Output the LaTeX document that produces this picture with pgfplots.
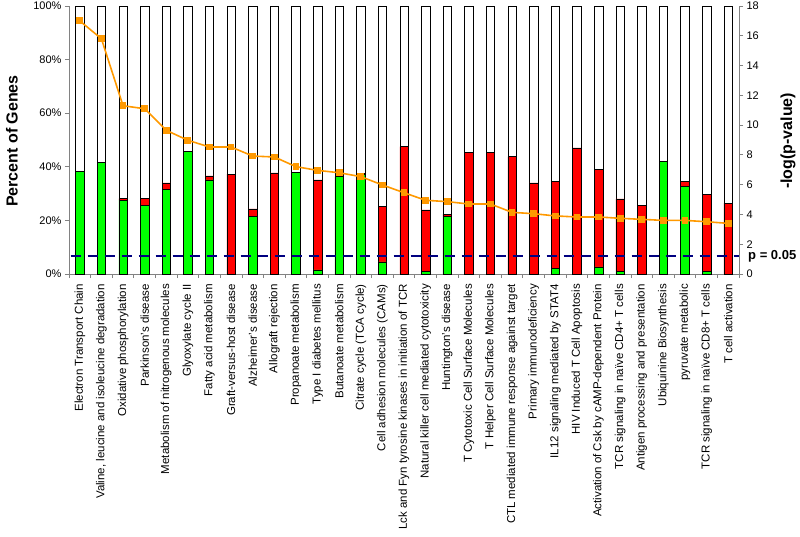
\documentclass[border=0pt]{standalone}
\usepackage{fontspec}
\setmainfont{Liberation Sans}
\usepackage{pgfplots}
\pgfplotsset{compat=1.18}
\usepackage{pgfplotstable}
\definecolor{barGreen}{RGB}{0,255,0}
\definecolor{barRed}{RGB}{255,0,0}
\definecolor{lineOrange}{RGB}{255,153,0}
\definecolor{navyDash}{RGB}{0,0,128}
\definecolor{axGray}{RGB}{130,130,130}

\pgfplotstableread{
x g r w p
0 38.4 0 61.6 17.0
1 41.7 0 58.3 15.8
2 27.6 0.5 71.9 11.3
3 25.5 2.6 71.9 11.1
4 31.7 2.3 66.0 9.65
5 45.8 0 54.2 8.98
6 35.1 1.5 63.4 8.53
7 0 37.3 62.7 8.53
8 21.4 2.9 75.7 7.92
9 0 37.7 62.3 7.86
10 37.9 0 62.1 7.21
11 1.5 33.6 64.9 6.96
12 36.3 0 63.7 6.80
13 37.3 0.3 62.4 6.54
14 4.5 20.6 74.9 5.98
15 0 47.5 52.5 5.46
16 0.9 23.0 76.1 4.95
17 21.4 0.9 77.7 4.86
18 0 45.4 54.6 4.70
19 0 45.4 54.6 4.70
20 0 43.8 56.2 4.14
21 0 34.0 66.0 4.05
22 2.1 32.6 65.3 3.90
23 0 47.1 52.9 3.83
24 2.7 36.4 60.9 3.83
25 0.9 27.1 72.0 3.74
26 0 25.5 74.5 3.67
27 42.0 0 58.0 3.60
28 32.6 2.1 65.3 3.60
29 0.9 28.7 70.4 3.51
30 0 26.4 73.6 3.40
}\data

\begin{document}
\begin{tikzpicture}
\path[use as bounding box] (-69pt,-263pt) rectangle (731pt,274pt);
\begin{axis}[
  at={(0pt,0pt)}, anchor=south west,
  scale only axis, width=670pt, height=268pt,
  ybar stacked, bar width=8.5pt,
  xmin=-0.5, xmax=30.5, ymin=0, ymax=100,
  axis x line*=bottom, axis y line*=left,
  axis line style={axGray, line width=0.8pt},
  tick align=outside,
  major tick length=4pt, minor tick length=4pt,
  every tick/.style={axGray, line width=0.8pt},
  xtick=data,
  major x tick style={draw=none},
  minor xtick={-0.5,0.5,...,30.5},
  xticklabels={
    Electron Transport Chain,
    {Valine, leucine and isoleucine degradation},
    Oxidative phosphorylation,
    Parkinson's disease,
    Metabolism of nitrogenous molecules,
    Glyoxylate cycle II,
    Fatty acid metabolism,
    Graft-versus-host disease,
    Alzheimer's disease,
    Allograft rejection,
    Propanoate metabolism,
    Type I diabetes mellitus,
    Butanoate metabolism,
    Citrate cycle (TCA cycle),
    Cell adhesion molecules (CAMs),
    Lck and Fyn tyrosine kinases in initiation of TCR,
    Natural killer cell mediated cytotoxicity,
    Huntington's disease,
    T Cytotoxic Cell Surface Molecules,
    T Helper Cell Surface Molecules,
    CTL mediated immune response against target,
    Primary immunodeficiency,
    IL12 signaling mediated by STAT4,
    HIV Induced T Cell Apoptosis,
    Activation of Csk by cAMP-dependent Protein,
    TCR signaling in naïve CD4+ T cells,
    Antigen processing and presentation,
    Ubiquinine Biosynthesis,
    pyruvate metabolic,
    TCR signaling in naïve CD8+ T cells,
    T cell activation},
  xticklabel style={rotate=90, anchor=east, font=\fontsize{11.5}{13}\selectfont, inner sep=0pt, xshift=-6pt},
  ytick={0,20,40,60,80,100},
  yticklabels={0\%,20\%,40\%,60\%,80\%,100\%},
  yticklabel style={font=\fontsize{11}{13}\selectfont},
  /pgf/number format/assume math mode=true,
]
\addplot[fill=barGreen, draw=black, line width=0.5pt] table[x=x, y=g] {\data};
\addplot[fill=barRed, draw=black, line width=0.5pt] table[x=x, y=r] {\data};
\addplot[fill=white, draw=black, line width=0.5pt] table[x=x, y=w] {\data};
\end{axis}
\begin{axis}[
  at={(0pt,0pt)}, anchor=south west,
  scale only axis, width=670pt, height=268pt,
  xmin=-0.5, xmax=30.5, ymin=0, ymax=18,
  axis x line=none, axis y line*=right,
  axis line style={axGray, line width=0.8pt},
  tick align=outside, major tick length=4pt,
  every tick/.style={axGray, line width=0.8pt},
  ytick={0,2,...,18},
  yticklabel style={font=\fontsize{11}{13}\selectfont},
  /pgf/number format/assume math mode=true,
  clip=false,
]
\addplot[navyDash, line width=2.6pt, dash pattern=on 10pt off 7pt] coordinates {(-0.42,1.21) (30.5,1.21)};
\addplot[lineOrange, line width=1.6pt, mark=square*, mark size=2.6pt, mark options={solid, fill=lineOrange}] table[x=x, y=p] {\data};
\node[anchor=west, font=\bfseries\fontsize{13}{15}\selectfont, inner sep=0pt] at (axis cs:30.5,1.21) [xshift=9pt] {p = 0.05};
\end{axis}
\node[rotate=90, font=\bfseries\fontsize{16}{18}\selectfont, inner sep=0pt] at (-57pt,133pt) {Percent of Genes};
\node[rotate=90, font=\bfseries\fontsize{16}{18}\selectfont, inner sep=0pt] at (719pt,133pt) {-log(p-value)};
\end{tikzpicture}
\end{document}
